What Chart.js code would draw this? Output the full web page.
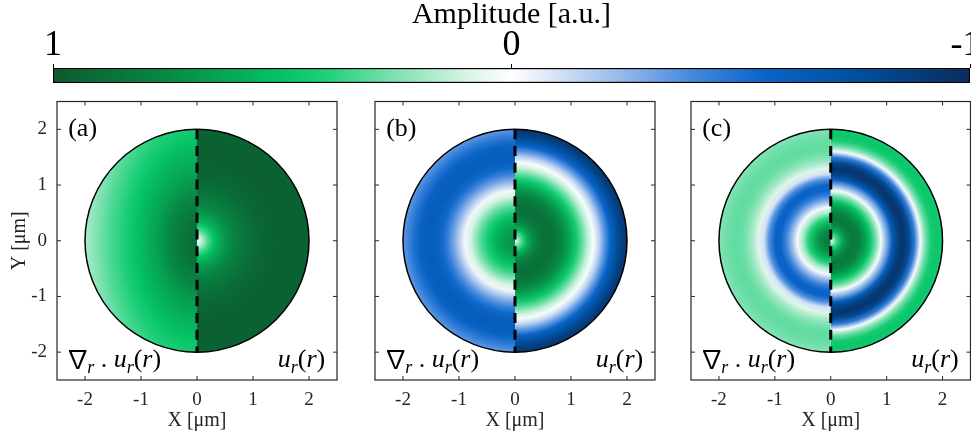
<!DOCTYPE html>
<html>
<head>
<meta charset="utf-8">
<script src="https://cdn.jsdelivr.net/npm/chart.js@4.4.1/dist/chart.umd.min.js"></script>
<style>
  body { margin: 0; background: #fff; width: 971px; height: 437px; overflow: hidden; position: relative; }
  canvas { position: absolute; }
</style>
</head>
<body>
<canvas id="colorBar" width="971" height="95" style="left:0px;top:0px"></canvas>
<canvas id="panelA" width="345" height="342" style="left:0px;top:95px"></canvas>
<canvas id="panelB" width="300" height="342" style="left:365px;top:95px"></canvas>
<canvas id="panelC" width="290" height="342" style="left:681px;top:95px"></canvas>
<script>
// radial samples (um) of each half disc
const radii = [0, 0.1, 0.2, 0.3, 0.4, 0.5, 0.6, 0.7, 0.8, 0.9, 1.0, 1.1, 1.2, 1.3, 1.4, 1.5, 1.6, 1.7, 1.8, 1.9, 2.0];
const divA = [0.90, 0.89, 0.87, 0.84, 0.80, 0.76, 0.71, 0.66, 0.62, 0.58, 0.54, 0.50, 0.46, 0.42, 0.38, 0.35, 0.32, 0.28, 0.25, 0.21, 0.17];
const urA  = [0.00, 0.17, 0.35, 0.50, 0.61, 0.69, 0.75, 0.80, 0.84, 0.87, 0.90, 0.92, 0.94, 0.95, 0.96, 0.97, 0.97, 0.97, 0.96, 0.96, 0.95];
const divB = [0.70, 0.69, 0.66, 0.60, 0.52, 0.43, 0.33, 0.22, 0.10, -0.03, -0.17, -0.31, -0.43, -0.53, -0.59, -0.62, -0.61, -0.57, -0.50, -0.42, -0.34];
const urB  = [0.00, 0.30, 0.55, 0.72, 0.82, 0.87, 0.88, 0.86, 0.80, 0.71, 0.59, 0.45, 0.30, 0.14, 0.02, -0.15, -0.35, -0.55, -0.72, -0.85, -0.93];
const divC = [0.82, 0.80, 0.72, 0.58, 0.40, 0.18, -0.02, -0.24, -0.42, -0.55, -0.56, -0.38, -0.10, 0.08, 0.18, 0.25, 0.29, 0.30, 0.29, 0.27, 0.24];
const urC  = [0.00, 0.35, 0.62, 0.78, 0.84, 0.80, 0.68, 0.50, 0.28, 0.03, -0.28, -0.62, -0.86, -0.94, -0.80, -0.45, -0.02, 0.28, 0.44, 0.48, 0.45];

// colour map: amplitude -> colour
const cmapValues = [1, 0.75, 0.5, 0.4, 0.25, 0.1, 0, -0.1, -0.25, -0.4, -0.55, -0.75, -1];
const cmapColors = ['#0b5a2e', '#078a45', '#05c364', '#22d07c', '#80e2b2', '#d6f4e4', '#ffffff',
                    '#d4e2f5', '#90b6e9', '#4287dd', '#0a64c8', '#0050a0', '#0b2b5a'];
const barTicks = [1, 0, -1];
const axisTicks = [-2, -1, 0, 1, 2];
const discRadius = 2;

const serif = "'Liberation Serif', 'Times New Roman', serif";
const axisColor = '#262626';

function hexRgb(h) {
  return [parseInt(h.slice(1, 3), 16), parseInt(h.slice(3, 5), 16), parseInt(h.slice(5, 7), 16)];
}
function cmap(v) {
  v = Math.max(-1, Math.min(1, v));
  for (let i = 0; i < cmapValues.length - 1; i++) {
    const a = cmapValues[i], b = cmapValues[i + 1];
    if (v <= a && v >= b) {
      const t = (a - v) / (a - b);
      const c0 = hexRgb(cmapColors[i]), c1 = hexRgb(cmapColors[i + 1]);
      const c = c0.map((c, k) => Math.round(c + (c1[k] - c) * t));
      return 'rgb(' + c.join(',') + ')';
    }
  }
  return cmapColors[cmapColors.length - 1];
}

// ---------- colour bar ----------
function barGradient(chart) {
  const x = chart.scales.x;
  if (!chart.chartArea || !x) return cmapColors[0];
  const g = chart.ctx.createLinearGradient(x.getPixelForValue(1), 0, x.getPixelForValue(-1), 0);
  cmapValues.forEach((v, i) => g.addColorStop((1 - v) / 2, cmapColors[i]));
  return g;
}

new Chart('colorBar', {
  type: 'bar',
  data: {
    labels: [''],
    datasets: [{
      data: [[-1, 1]],
      backgroundColor: ctx => barGradient(ctx.chart),
      borderColor: '#000',
      borderWidth: 1.5,
      borderSkipped: false,
      barPercentage: 1,
      categoryPercentage: 1
    }]
  },
  options: {
    indexAxis: 'y',
    responsive: false,
    animation: false,
    devicePixelRatio: 1,
    events: [],
    layout: { padding: { left: 53, right: 1, top: 0, bottom: 12 } },
    plugins: { legend: { display: false }, tooltip: { enabled: false } },
    scales: {
      x: {
        position: 'top',
        min: -1, max: 1,
        reverse: true,
        afterBuildTicks: s => { s.ticks = barTicks.map(v => ({ value: v })); },
        afterFit: s => { s.height = 68; s.paddingLeft = 0; s.paddingRight = 0; },
        grid: { drawOnChartArea: false, drawTicks: true, tickLength: 4, color: '#000' },
        border: { display: false },
        ticks: { padding: 0, autoSkip: false, maxRotation: 0, color: '#000',
                 font: { family: serif, size: 36, lineHeight: 1 },
                 // last label sits at the window edge, nudge it inwards like the original
                 callback: v => v === -1 ? '-1 ' : String(v) },
        title: { display: true, text: 'Amplitude [a.u.]', color: '#000',
                 font: { family: serif, size: 30, lineHeight: 1 }, padding: { top: 0, bottom: 0 } }
      },
      y: { display: false }
    }
  }
});

// ---------- panels ----------
const discPlugin = {
  id: 'disc',
  beforeDatasetsDraw(chart, args, opts) {
    const { ctx, scales: { x, y } } = chart;
    const cx = x.getPixelForValue(0), cy = y.getPixelForValue(0);
    const rx = x.getPixelForValue(discRadius) - cx;
    const ry = cy - y.getPixelForValue(discRadius);
    const halves = [
      { prof: opts.left, a0: Math.PI / 2, a1: Math.PI * 1.5, stretch: opts.leftStretch || 1 },
      { prof: opts.right, a0: -Math.PI / 2, a1: Math.PI / 2, stretch: 1 }
    ];
    halves.forEach(h => {
      ctx.save();
      ctx.beginPath();
      ctx.moveTo(cx, cy);
      ctx.ellipse(cx, cy, rx, ry, 0, h.a0, h.a1);
      ctx.closePath();
      ctx.clip();
      ctx.translate(cx, cy);
      ctx.scale(1, ry / rx * h.stretch);
      const g = ctx.createRadialGradient(0, 0, 0, 0, 0, rx);
      radii.forEach((r, i) => g.addColorStop(r / discRadius, cmap(h.prof[i])));
      ctx.fillStyle = g;
      ctx.fillRect(-rx * 2, -rx * 3, rx * 4, rx * 6);
      ctx.restore();
    });
    ctx.save();
    ctx.beginPath();
    ctx.ellipse(cx, cy, rx, ry, 0, 0, Math.PI * 2);
    ctx.strokeStyle = '#000';
    ctx.lineWidth = 1.5;
    ctx.stroke();
    ctx.restore();
  }
};

// text pieces: n upright, i italic, s italic subscript, g nabla sign
function drawMath(ctx, parts, x, y, align) {
  const fontFor = s => s === 'g' ? "25px 'Noto Sans CJK JP', 'DejaVu Serif', serif"
    : (s === 'n' ? '' : 'italic ') + (s === 's' ? 18 : 26) + 'px ' + serif;
  const advance = (t, s) => { ctx.font = fontFor(s); return s === 'g' ? 19 : ctx.measureText(t).width; };
  let w = 0;
  parts.forEach(([t, s]) => { w += advance(t, s); });
  let px = align === 'right' ? x - w : x;
  ctx.textBaseline = 'alphabetic';
  parts.forEach(([t, s]) => {
    const adv = advance(t, s);
    if (s === 'g') {
      ctx.textAlign = 'center';
      ctx.fillText(t, px + adv / 2, y + 1);
    } else {
      ctx.textAlign = 'left';
      ctx.fillText(t, px, y + (s === 's' ? 6 : 0));
    }
    px += adv;
  });
}

const leftFormula = [['\u2207', 'g'], ['r', 's'], [' . ', 'n'], ['u', 'i'], ['r', 's'], ['(', 'n'], ['r', 'i'], [')', 'n']];
const rightFormula = [['u', 'i'], ['r', 's'], ['(', 'n'], ['r', 'i'], [')', 'n']];

const framePlugin = {
  id: 'frame',
  afterDraw(chart, args, opts) {
    const { ctx, chartArea: a, scales: { x, y } } = chart;
    ctx.save();
    ctx.strokeStyle = axisColor;
    ctx.lineWidth = 1.2;
    ctx.strokeRect(a.left, a.top, a.right - a.left, a.bottom - a.top);
    ctx.lineWidth = 1;
    ctx.beginPath();
    axisTicks.forEach(v => {
      const px = x.getPixelForValue(v), py = y.getPixelForValue(v);
      ctx.moveTo(px, a.bottom); ctx.lineTo(px, a.bottom - 4);
      ctx.moveTo(px, a.top); ctx.lineTo(px, a.top + 4);
      ctx.moveTo(a.left, py); ctx.lineTo(a.left + 4, py);
      ctx.moveTo(a.right, py); ctx.lineTo(a.right - 4, py);
    });
    ctx.stroke();
    ctx.fillStyle = '#000';
    ctx.font = '26px ' + serif;
    ctx.textAlign = 'left';
    ctx.textBaseline = 'alphabetic';
    ctx.fillText(opts.name, x.getPixelForValue(-2.3), y.getPixelForValue(1.88));
    drawMath(ctx, leftFormula, x.getPixelForValue(-2.3), y.getPixelForValue(-2.27), 'left');
    drawMath(ctx, rightFormula, x.getPixelForValue(2.29), y.getPixelForValue(-2.27), 'right');
    ctx.restore();
  }
};

function makePanel(id, name, left, right, leftStretch, showY, padRight) {
  const tickFont = { family: serif, size: 19 };
  new Chart(id, {
    type: 'scatter',
    data: {
      datasets: [{
        data: [{ x: 0, y: discRadius }, { x: 0, y: -discRadius }],
        showLine: true,
        borderColor: '#000',
        borderWidth: 3,
        borderDash: [10, 6.7],
        pointRadius: 0
      }]
    },
    options: {
      responsive: false,
      animation: false,
      devicePixelRatio: 1,
      events: [],
      layout: { padding: { top: 6.5, right: padRight, left: 0, bottom: 0 } },
      plugins: {
        legend: { display: false },
        tooltip: { enabled: false },
        disc: { left: left, right: right, leftStretch: leftStretch },
        frame: { name: name }
      },
      scales: {
        x: {
          type: 'linear', min: -2.5, max: 2.5,
          afterBuildTicks: s => { s.ticks = axisTicks.map(v => ({ value: v })); },
          afterFit: s => { s.height = 57; s.paddingLeft = 0; s.paddingRight = 0; },
          grid: { display: false, drawTicks: false },
          border: { display: false },
          ticks: { padding: 9, color: axisColor, font: tickFont },
          title: { display: true, text: 'X [\u03bcm]', color: axisColor,
                   font: { family: serif, size: 20 }, padding: { top: 0, bottom: 4 } }
        },
        y: {
          type: 'linear', min: -2.5, max: 2.5,
          afterBuildTicks: s => { s.ticks = axisTicks.map(v => ({ value: v })); },
          afterFit: s => { s.width = showY ? 57 : 10; s.paddingTop = 0; s.paddingBottom = 0; },
          grid: { display: false, drawTicks: false },
          border: { display: false },
          ticks: { display: showY, padding: 10, color: axisColor, font: tickFont },
          title: { display: showY, text: 'Y [\u03bcm]', color: axisColor,
                   font: { family: serif, size: 20 }, padding: { top: 8, bottom: 0 } }
        }
      }
    },
    plugins: [discPlugin, framePlugin]
  });
}

makePanel('panelA', '(a)', divA, urA, 1.6, true, 8);
makePanel('panelB', '(b)', divB, urB, 1, false, 10);
makePanel('panelC', '(c)', divC, urC, 1, false, 0.5);
</script>
</body>
</html>
